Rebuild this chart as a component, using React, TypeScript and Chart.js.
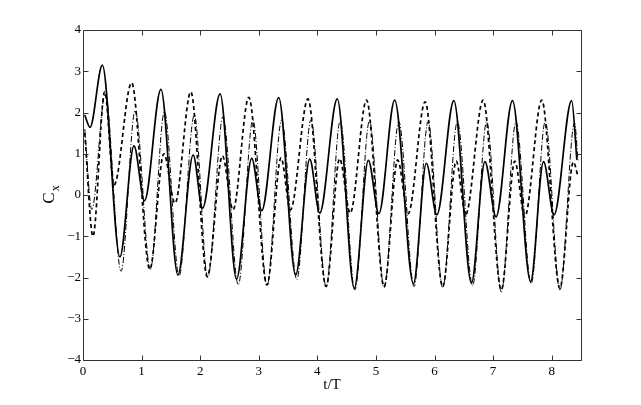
import { useEffect, useRef } from "react";
import { Chart, registerables } from "chart.js";

Chart.register(...registerables);

// t/T and C_x values
const solidT = [0.03, 0.12, 0.33, 0.63, 0.87, 1.05, 1.33, 1.62, 1.88, 2.04, 2.34, 2.62, 2.88, 3.05, 3.34, 3.63, 3.87, 4.04, 4.34, 4.63, 4.87, 5.05, 5.32, 5.64, 5.86, 6.04, 6.33, 6.63, 6.86, 7.05, 7.33, 7.64, 7.86, 8.04, 8.34, 8.43];
const solidC = [1.94, 1.64, 3.15, -1.5, 1.19, -0.14, 2.56, -1.94, 0.97, -0.32, 2.45, -2.04, 0.89, -0.38, 2.36, -1.94, 0.87, -0.44, 2.33, -2.26, 0.84, -0.45, 2.3, -2.15, 0.77, -0.48, 2.29, -2.14, 0.81, -0.53, 2.29, -2.1, 0.81, -0.48, 2.29, 0.85];

const dashedT = [0.03, 0.17, 0.37, 0.53, 0.83, 1.14, 1.38, 1.57, 1.84, 2.12, 2.38, 2.56, 2.83, 3.14, 3.38, 3.54, 3.84, 4.15, 4.38, 4.56, 4.84, 5.14, 5.37, 5.55, 5.84, 6.14, 6.37, 6.53, 6.83, 7.14, 7.37, 7.54, 7.83, 8.14, 8.37, 8.45];
const dashedC = [1.5, -1.0, 2.5, 0.24, 2.72, -1.8, 1.0, -0.2, 2.5, -1.98, 0.95, -0.36, 2.37, -2.18, 0.9, -0.36, 2.33, -2.22, 0.88, -0.44, 2.3, -2.22, 0.85, -0.45, 2.26, -2.22, 0.82, -0.48, 2.3, -2.3, 0.82, -0.53, 2.3, -2.26, 0.8, 0.44];

const dashDotT = [0.03, 0.15, 0.38, 0.65, 0.89, 1.15, 1.39, 1.64, 1.9, 2.13, 2.39, 2.65, 2.9, 3.14, 3.39, 3.65, 3.89, 4.15, 4.39, 4.64, 4.89, 5.14, 5.39, 5.65, 5.89, 6.14, 6.39, 6.65, 6.89, 7.14, 7.39, 7.65, 7.89, 8.14, 8.39, 8.45];
const dashDotC = [1.6, -0.35, 2.45, -1.85, 2.05, -1.8, 2.02, -1.96, 1.94, -2.0, 1.9, -2.18, 1.82, -2.2, 1.82, -2.05, 1.82, -2.22, 1.8, -2.3, 1.8, -2.25, 1.78, -2.22, 1.78, -2.25, 1.78, -2.2, 1.78, -2.35, 1.78, -2.15, 1.78, -2.3, 1.75, 0.8];

const xTicks = [0, 1, 2, 3, 4, 5, 6, 7, 8];
const yTicks = [-4, -3, -2, -1, 0, 1, 2, 3, 4];

const xTitle = "t/T";
const yTitleMain = "C";
const yTitleSub = "x";

const SERIF = "'Liberation Serif', 'Times New Roman', serif";

const framePlugin = {
  id: "frame",
  afterDraw(chart: any) {
    const { ctx, chartArea: a, scales } = chart;
    const L = Math.round(a.left) + 0.5;
    const R = Math.round(a.right) + 0.5;
    const T = Math.round(a.top) + 0.5;
    const B = Math.round(a.bottom) + 0.5;
    ctx.save();
    ctx.strokeStyle = "#333";
    ctx.lineWidth = 1;
    ctx.beginPath();
    ctx.rect(L, T, R - L, B - T);
    ctx.stroke();
    const tl = 5;
    ctx.beginPath();
    for (const v of xTicks) {
      const px = Math.round(scales.x.getPixelForValue(v)) + 0.5;
      ctx.moveTo(px, B);
      ctx.lineTo(px, B - tl);
      ctx.moveTo(px, T);
      ctx.lineTo(px, T + tl);
    }
    for (const v of yTicks) {
      const py = Math.round(scales.y.getPixelForValue(v)) + 0.5;
      ctx.moveTo(L, py);
      ctx.lineTo(L + tl, py);
      ctx.moveTo(R, py);
      ctx.lineTo(R - tl, py);
    }
    ctx.stroke();

    // x title
    ctx.fillStyle = "#000";
    ctx.font = `15px ${SERIF}`;
    ctx.textAlign = "center";
    ctx.textBaseline = "middle";
    ctx.fillText(xTitle, (a.left + a.right) / 2, a.bottom + 25);

    // y title with subscript
    ctx.translate(50, (a.top + a.bottom) / 2);
    ctx.rotate(-Math.PI / 2);
    ctx.font = `17px ${SERIF}`;
    ctx.textAlign = "left";
    ctx.textBaseline = "middle";
    const w = ctx.measureText(yTitleMain).width;
    const subW = (() => {
      ctx.font = `12px ${SERIF}`;
      return ctx.measureText(yTitleSub).width;
    })();
    const start = -(w + subW) / 2;
    ctx.font = `17px ${SERIF}`;
    ctx.fillText(yTitleMain, start, 0);
    ctx.font = `12px ${SERIF}`;
    ctx.fillText(yTitleSub, start + w + 1, 6);
    ctx.restore();
  },
};

const toPoints = (ts: number[], cs: number[]) => ts.map((t, i) => ({ x: t, y: cs[i] }));

export default function App() {
  const ref = useRef<HTMLCanvasElement>(null);
  useEffect(() => {
    if (!ref.current) return;
    const common = {
      pointRadius: 0,
      fill: false,
      cubicInterpolationMode: "monotone" as const,
      borderColor: "#000",
    };
    const chart = new Chart(ref.current, {
      type: "line",
      data: {
        datasets: [
          { ...common, data: toPoints(solidT, solidC), borderWidth: 1.7 },
          { ...common, data: toPoints(dashedT, dashedC), borderWidth: 1.7, borderDash: [4, 3] },
          { ...common, data: toPoints(dashDotT, dashDotC), borderWidth: 1, borderDash: [6, 2, 1, 2] },
        ],
      },
      plugins: [framePlugin],
      options: {
        animation: false,
        responsive: false,
        devicePixelRatio: 1,
        layout: { padding: { top: 30, right: 60, left: 0, bottom: 0 } },
        plugins: { legend: { display: false }, tooltip: { enabled: false } },
        scales: {
          x: {
            type: "linear",
            min: 0,
            max: 8.5,
            grid: { display: false, drawTicks: false },
            border: { display: false },
            ticks: {
              color: "#000",
              font: { family: SERIF, size: 13 },
              padding: 4,
              maxRotation: 0,
              autoSkip: false,
            },
            afterBuildTicks: (s: any) => {
              s.ticks = xTicks.map((v) => ({ value: v }));
            },
            afterFit: (s: any) => {
              s.height = 45;
            },
          },
          y: {
            type: "linear",
            min: -4,
            max: 4,
            grid: { display: false, drawTicks: false },
            border: { display: false },
            ticks: {
              color: "#000",
              font: { family: SERIF, size: 13 },
              padding: 2,
              callback: (v: any) => String(v).replace("-", "\u2212"),
            },
            afterBuildTicks: (s: any) => {
              s.ticks = yTicks.map((v) => ({ value: v }));
            },
            afterFit: (s: any) => {
              s.width = 83;
            },
          },
        },
      },
    });
    return () => chart.destroy();
  }, []);
  return (
    <div style={{ position: "fixed", left: 0, top: 0, width: 641, height: 405, background: "#fff" }}>
      <canvas ref={ref} width={641} height={405} />
    </div>
  );
}
